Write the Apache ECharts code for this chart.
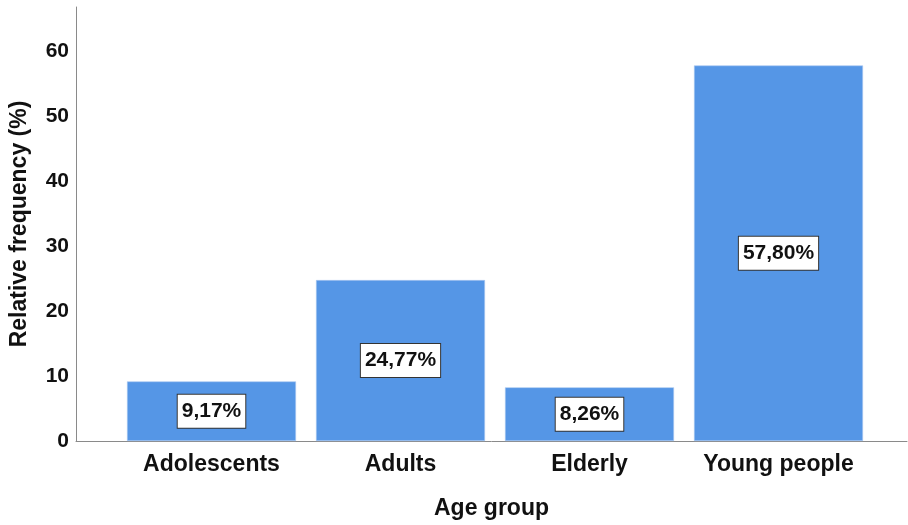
<!DOCTYPE html>
<html>
<head>
<meta charset="utf-8">
<script src="https://cdn.jsdelivr.net/npm/echarts@6/dist/echarts.min.js"></script>
<style>html,body{margin:0;padding:0;background:#fff}#c{width:908px;height:525px}</style>
</head>
<body>
<div id="c"></div>
<script>
const categories = ['Adolescents', 'Adults', 'Elderly', 'Young people'];
const values = [9.17, 24.77, 8.26, 57.80];
const labels = ['9,17%', '24,77%', '8,26%', '57,80%'];
const yTicks = [0, 10, 20, 30, 40, 50, 60];

const FONT = '"Liberation Sans", Arial, sans-serif';
const chart = echarts.init(document.getElementById('c'));
const yMax = 66.8;
chart.setOption({
  animation: false,
  backgroundColor: '#fff',
  grid: [
    {left: 76, right: 1, top: 7, bottom: 84, containLabel: false, outerBoundsMode: 'none'},
    {left: 117, right: 35, top: 7, bottom: 84, containLabel: false, outerBoundsMode: 'none'}
  ],
  xAxis: [
    {type: 'value', gridIndex: 0, min: 0, max: 1, axisLine: {show: true, onZero: false, lineStyle: {color: '#8a8a8a', width: 1}},
     axisTick: {show: false}, axisLabel: {show: false}, splitLine: {show: false},
     name: 'Age group', nameLocation: 'middle', nameGap: 56,
     nameTextStyle: {fontFamily: FONT, fontWeight: 'bold', fontSize: 23, color: '#111'}},
    {type: 'category', gridIndex: 1, data: categories, axisLine: {show: false}, axisTick: {show: false},
     axisLabel: {interval: 0, hideOverlap: false, fontFamily: FONT, fontWeight: 'bold', fontSize: 23, color: '#111', margin: 12}}
  ],
  yAxis: [
    {type: 'value', gridIndex: 0, min: 0, max: yMax, interval: 10,
     axisLine: {show: true, lineStyle: {color: '#8a8a8a', width: 1}}, axisTick: {show: false}, splitLine: {show: false},
     axisLabel: {fontFamily: FONT, fontWeight: 'bold', fontSize: 21, color: '#111', margin: 7, showMaxLabel: false,
       formatter: v => yTicks.includes(v) ? String(v) : ''},
     name: 'Relative frequency (%)', nameLocation: 'middle', nameGap: 45, nameRotate: 90,
     nameTextStyle: {fontFamily: FONT, fontWeight: 'bold', fontSize: 23, color: '#111'}},
    {type: 'value', gridIndex: 1, min: 0, max: yMax, show: false}
  ],
  series: [{
    type: 'bar', xAxisIndex: 1, yAxisIndex: 1, data: values, barWidth: 169,
    itemStyle: {color: '#5596E6', borderColor: '#a9c8f0', borderWidth: 0.6},
    label: {show: true, position: 'inside', formatter: p => labels[p.dataIndex],
      fontFamily: FONT, fontWeight: 'bold', fontSize: 21, color: '#111',
      backgroundColor: '#fff', borderColor: '#333', borderWidth: 1, padding: [7, 4, 5, 4]}
  }]
});
</script>
</body>
</html>
